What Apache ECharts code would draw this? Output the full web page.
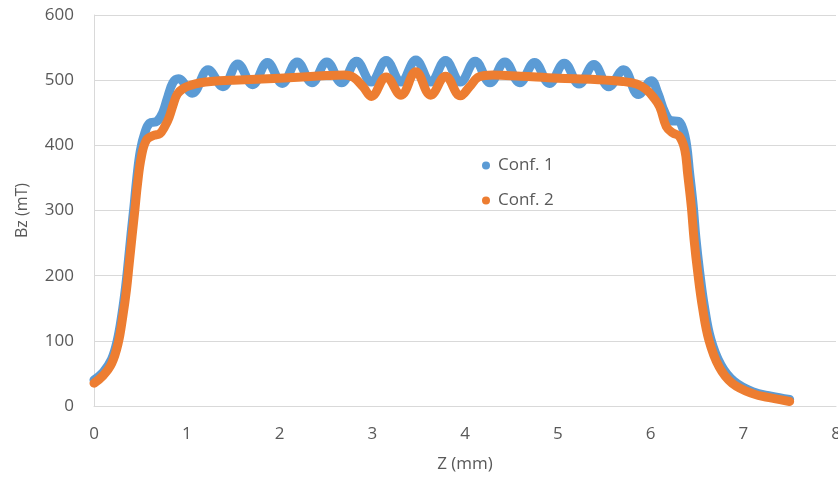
<!DOCTYPE html>
<html>
<head>
<meta charset="utf-8">
<script src="https://cdn.jsdelivr.net/npm/echarts@6/dist/echarts.min.js"></script>
<style>
html,body{margin:0;padding:0;background:#fff;}
#chart{width:838px;height:477px;}
</style>
</head>
<body>
<div id="chart"></div>
<script>
// Conf. 1 (blue)
var conf1Z = [0, 0.1, 0.19, 0.25, 0.3, 0.34, 0.37, 0.4, 0.43, 0.46, 0.5, 0.55, 0.6, 0.68, 0.74, 0.79, 0.85,
  0.91, 1.06, 1.23, 1.39, 1.55, 1.71, 1.87, 2.03, 2.19, 2.35, 2.51, 2.67, 2.83, 2.99, 3.15, 3.31, 3.47,
  3.63, 3.79, 3.95, 4.11, 4.27, 4.43, 4.59, 4.75, 4.91, 5.07, 5.23, 5.39, 5.55, 5.71, 5.87, 6.01,
  6.08, 6.15, 6.22, 6.3, 6.35, 6.39, 6.42, 6.46, 6.49, 6.53, 6.58, 6.65, 6.76, 6.9, 7.1, 7.3, 7.5];
var conf1B = [40, 52, 72, 100, 140, 182, 222, 265, 305, 348, 392, 420, 434, 437, 450, 472, 496,
  502, 480, 516, 490, 525, 493, 527, 495, 528, 496, 528, 496, 529, 497, 530, 497, 531,
  497, 530, 497, 529, 496, 528, 496, 527, 495, 526, 494, 524, 490, 516, 478, 499,
  480, 452, 438, 437, 425, 400, 360, 308, 257, 206, 154, 103, 63, 38, 22, 15, 10];

// Conf. 2 (orange)
var conf2Z = [0, 0.1, 0.19, 0.26, 0.31, 0.35, 0.38, 0.41, 0.44, 0.47, 0.51, 0.565, 0.64, 0.71, 0.76, 0.81, 0.86,
  0.9, 0.96, 1.04, 1.15, 1.26, 1.5, 2.0, 2.5, 2.7, 2.8, 2.9, 2.99, 3.15, 3.31, 3.47, 3.63, 3.79, 3.95,
  4.05, 4.15, 4.3, 4.6, 5.0, 5.4, 5.7, 5.85, 5.95, 6.03, 6.1, 6.17, 6.24, 6.31, 6.37, 6.4,
  6.44, 6.47, 6.51, 6.56, 6.63, 6.74, 6.88, 7.1, 7.31, 7.5];
var conf2B = [35, 47, 65, 96, 137, 178, 219, 260, 300, 342, 382, 408, 415, 418, 428, 443, 465,
  479, 487, 492, 496, 498, 500, 503, 507, 508, 504, 490, 475, 505, 477, 513, 477, 506, 476,
  490, 505, 508, 506, 503, 501, 498, 494, 486, 474, 459, 429, 419, 414, 393, 357,
  306, 255, 204, 152, 101, 60, 35, 19, 12, 7];

var xTicks = [0, 1, 2, 3, 4, 5, 6, 7, 8];
var yTicks = [0, 100, 200, 300, 400, 500, 600];

function pairs(zs, bs) { return zs.map(function (z, i) { return [z, bs[i]]; }); }

var FONT = "'Open Sans', 'Noto Sans', sans-serif";
var chart = echarts.init(document.getElementById('chart'), null, {renderer: 'canvas'});
chart.setOption({
  animation: false,
  backgroundColor: '#ffffff',
  grid: {left: 94, right: 2, top: 15, bottom: 71, containLabel: false, outerBoundsMode: 'none'},
  legend: {
    orient: 'vertical', left: 477, top: 152,
    icon: 'circle', itemWidth: 8, itemHeight: 8, itemGap: 18,
    textStyle: {color: '#595959', fontSize: 17, fontFamily: FONT, padding: [0, 0, 0, 3]},
    data: ['Conf. 1', 'Conf. 2']
  },
  xAxis: {
    type: 'value', min: xTicks[0], max: xTicks[xTicks.length - 1], interval: 1,
    name: 'Z (mm)', nameLocation: 'middle', nameGap: 50,
    nameTextStyle: {color: '#595959', fontSize: 17, fontFamily: FONT},
    axisLine: {show: true, lineStyle: {color: '#d9d9d9', width: 1}},
    axisTick: {show: false},
    axisLabel: {color: '#595959', fontSize: 17, fontFamily: FONT, margin: 20, showMaxLabel: true},
    splitLine: {show: false}
  },
  yAxis: {
    type: 'value', min: yTicks[0], max: yTicks[yTicks.length - 1], interval: 100,
    name: 'Bz (mT)', nameLocation: 'middle', nameGap: 64, nameRotate: 90,
    nameTextStyle: {color: '#595959', fontSize: 16, fontFamily: FONT},
    axisLine: {show: true, lineStyle: {color: '#d9d9d9', width: 1}},
    axisTick: {show: false},
    axisLabel: {color: '#595959', fontSize: 17, fontFamily: FONT, margin: 20},
    splitLine: {show: true, lineStyle: {color: '#d9d9d9', width: 1}}
  },
  series: [
    {
      name: 'Conf. 1', type: 'line', data: pairs(conf1Z, conf1B),
      smooth: 0.4, showSymbol: false, symbol: 'circle',
      itemStyle: {color: '#5B9BD5'},
      lineStyle: {color: '#5B9BD5', width: 9, cap: 'round', join: 'round'}
    },
    {
      name: 'Conf. 2', type: 'line', data: pairs(conf2Z, conf2B),
      smooth: 0.4, showSymbol: false, symbol: 'circle',
      itemStyle: {color: '#ED7D31'},
      lineStyle: {color: '#ED7D31', width: 9, cap: 'round', join: 'round'}
    }
  ]
});
</script>
</body>
</html>
